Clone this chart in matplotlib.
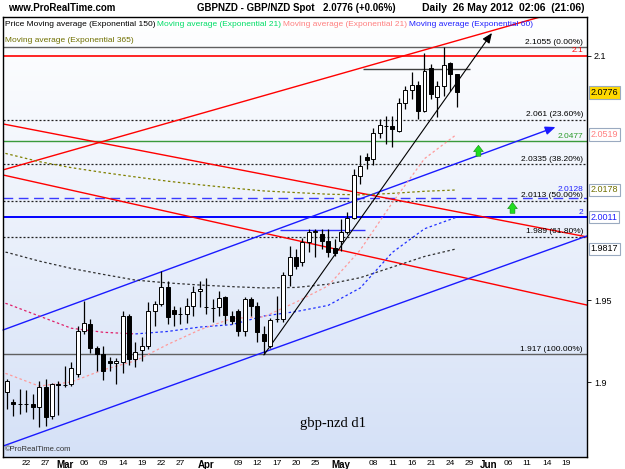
import numpy as np
import matplotlib.pyplot as plt
from matplotlib.transforms import blended_transform_factory

plt.rcParams['font.family'] = ['Liberation Sans', 'DejaVu Sans']

# GBPNZD daily candles, index 0 = 17 Feb 2012 ... index 70 = 25 May 2012
opens = [1.8939, 1.8878, 1.8866, 1.8864, 1.8865, 1.8847, 1.8969, 1.8792, 1.8985, 1.8980,
         1.8988, 1.9049, 1.9313, 1.9356, 1.9209, 1.9172, 1.9129, 1.9117, 1.9123, 1.9405,
         1.9141, 1.9197, 1.9221, 1.9436, 1.9479, 1.9583, 1.9442, 1.9420, 1.9418, 1.9467,
         1.9559, 1.9462, 1.9456, 1.9460, 1.9522, 1.9405, 1.9436, 1.9313, 1.9509, 1.9467,
         1.9295, 1.9221, 1.9385, 1.9387, 1.9657, 1.9767, 1.9737, 1.9859, 1.9920, 1.9908,
         1.9865, 1.9822, 1.9865, 1.9920, 2.0006, 2.0264, 2.0381, 2.0368, 2.0528, 2.0573,
         2.0571, 2.0540, 2.0712, 2.0792, 2.0822, 2.0663, 2.0927, 2.0749, 2.0816, 2.0957,
         2.0890]
highs = [1.9019, 1.8896, 1.8957, 1.8951, 1.8927, 1.9006, 1.9019, 1.8994, 1.9006, 1.9098,
         1.9123, 1.9344, 1.9497, 1.9387, 1.9221, 1.9221, 1.9154, 1.9148, 1.9436, 1.9418,
         1.9246, 1.9276, 1.9491, 1.9497, 1.9681, 1.9620, 1.9467, 1.9460, 1.9516, 1.9589,
         1.9620, 1.9638, 1.9509, 1.9559, 1.9528, 1.9436, 1.9448, 1.9522, 1.9522, 1.9491,
         1.9344, 1.9393, 1.9528, 1.9675, 1.9835, 1.9816, 1.9883, 1.9939, 1.9939, 1.9939,
         1.9939, 1.9878, 2.0000, 2.0043, 2.0307, 2.0393, 2.0405, 2.0559, 2.0614, 2.0632,
         2.0632, 2.0743, 2.0816, 2.0902, 2.0847, 2.1019, 2.0951, 2.0847, 2.1055, 2.0963,
         2.0890]
lows = [1.8835, 1.8792, 1.8804, 1.8816, 1.8773, 1.8724, 1.8730, 1.8773, 1.8798, 1.8969,
        1.8976, 1.9031, 1.9295, 1.9178, 1.9068, 1.9013, 1.9068, 1.8988, 1.9055, 1.9105,
        1.9092, 1.9129, 1.9203, 1.9344, 1.9467, 1.9356, 1.9344, 1.9356, 1.9362, 1.9405,
        1.9460, 1.9418, 1.9368, 1.9405, 1.9356, 1.9356, 1.9283, 1.9283, 1.9405, 1.9246,
        1.9170, 1.9209, 1.9368, 1.9368, 1.9589, 1.9694, 1.9712, 1.9798, 1.9767, 1.9816,
        1.9767, 1.9773, 1.9804, 1.9908, 2.0000, 2.0215, 2.0307, 2.0332, 2.0497, 2.0460,
        2.0442, 2.0534, 2.0675, 2.0737, 2.0614, 2.0657, 2.0737, 2.0626, 2.0755, 2.0786,
        2.0687]
closes = [1.9006, 1.8865, 1.8863, 1.8867, 1.8847, 1.8969, 1.8786, 1.8988, 1.8982, 1.8984,
          1.9086, 1.9313, 1.9362, 1.9209, 1.9172, 1.9068, 1.9117, 1.9129, 1.9405, 1.9141,
          1.9184, 1.9221, 1.9436, 1.9479, 1.9583, 1.9399, 1.9418, 1.9416, 1.9467, 1.9552,
          1.9571, 1.9458, 1.9452, 1.9516, 1.9411, 1.9375, 1.9313, 1.9509, 1.9467, 1.9307,
          1.9252, 1.9381, 1.9389, 1.9657, 1.9767, 1.9712, 1.9859, 1.9920, 1.9927, 1.9865,
          1.9798, 1.9792, 1.9920, 2.0006, 2.0270, 2.0325, 2.0362, 2.0528, 2.0577, 2.0569,
          2.0553, 2.0712, 2.0792, 2.0822, 2.0663, 2.0908, 2.0767, 2.0816, 2.0945, 2.0890,
          2.0776]

# moving averages sampled every 5 bars
ma_idx = [-1, 0, 5, 10, 15, 20, 25, 30, 35, 40, 45, 50, 55, 60, 65, 70]
ema150 = [1.9800, 1.9795, 1.9742, 1.9697, 1.9660, 1.9625, 1.9608, 1.9595, 1.9585, 1.9577,
          1.9580, 1.9600, 1.9640, 1.9705, 1.9770, 1.9817]
ema365 = [2.0410, 2.0400, 2.0352, 2.0315, 2.0285, 2.0258, 2.0232, 2.0210, 2.0190, 2.0172,
          2.0162, 2.0152, 2.0148, 2.0157, 2.0170, 2.0178]
ema60 = [1.9490, 1.9480, 1.9405, 1.9330, 1.9305, 1.9295, 1.9310, 1.9337, 1.9352, 1.9405,
         1.9432, 1.9470, 1.9577, 1.9795, 1.9940, 2.0011]
ema21 = [1.9060, 1.9050, 1.8975, 1.9000, 1.9075, 1.9130, 1.9230, 1.9320, 1.9390, 1.9400,
         1.9490, 1.9590, 1.9810, 2.0100, 2.0370, 2.0519]

# fibonacci retracement 1.917 -> 2.1055
fib_levels = [2.1055, 2.061, 2.0335, 2.0113, 1.989, 1.917]
fib_labels = ['2.1055 (0.00%)', '2.061 (23.60%)', '2.0335 (38.20%)',
              '2.0113 (50.00%)', '1.989 (61.80%)', '1.917 (100.00%)']

# tick labels (bar index, text)
tick_pos = [3, 6, 9, 12, 15, 18, 21, 24, 27, 31, 36, 39, 42, 45, 48, 52, 57, 60, 63, 66,
            69, 72, 75, 78, 81, 84, 87]
tick_txt = ['22', '27', 'Mar', '06', '09', '14', '19', '22', '27', 'Apr', '09', '12', '17',
            '20', '25', 'May', '08', '11', '16', '21', '24', '29', 'Jun', '06', '11', '14', '19']

xmin, xmax = -0.62, 90.3
ymin, ymax = 1.8540, 2.1239

fig = plt.figure(figsize=(6.25, 4.69), dpi=100)
ax = fig.add_axes([3 / 625, 12 / 469, 584 / 625, 440 / 469])
ax.set_xlim(xmin, xmax)
ax.set_ylim(ymin, ymax)

# background gradient
top = np.array([1.0, 1.0, 1.0])
bot = np.array([213, 225, 247]) / 255
t = np.linspace(0, 1, 256)[:, None]
grad = (top * (1 - t) + bot * t)[:, None, :]
ax.imshow(grad, extent=[xmin, xmax, ymin, ymax], aspect='auto', zorder=0, origin='upper')

# horizontal levels
ax.axhline(2.1, color='#ff0000', lw=1.2, zorder=2)
ax.axhline(2.0477, color='#3a9a3a', lw=1.0, zorder=2)
ax.axhline(2.0128, color='#3a3aff', lw=1.0, dashes=(7, 4), zorder=2)
ax.axhline(2.0011, color='#0000ff', lw=1.4, zorder=2)
ax.hlines(2.092, 55.5, 72.1, color='#404040', lw=1.0, zorder=2)
ax.hlines(1.9933, 42.5, 55.8, color='#3030ff', lw=1.0, zorder=2)
for lev in fib_levels:
    if lev in (2.1055, 1.917):
        ax.axhline(lev, color='#606060', lw=1.0, zorder=2)
    else:
        ax.axhline(lev, color='#202020', lw=0.9, dashes=(1.6, 1.6), zorder=2)

# trend lines
ax.plot([xmin, 83.0], [2.0301, 2.1239], color='#ff0000', lw=1.0, zorder=2)
ax.plot([xmin, xmax], [2.0583, 1.9890], color='#ff0000', lw=1.0, zorder=2)
ax.plot([xmin, xmax], [2.0270, 1.9472], color='#ff0000', lw=1.0, zorder=2)
ax.plot([xmin, xmax], [1.8607, 1.9896], color='#1a1aff', lw=1.0, zorder=2)
ax.annotate('', xy=(85.4, 2.0564), xytext=(xmin, 1.9319),
            arrowprops=dict(arrowstyle='-|>,head_length=0.6,head_width=0.25', color='#1a1aff',
                            lw=1.0, shrinkA=0, shrinkB=0), zorder=2)
ax.annotate('', xy=(75.5, 2.1141), xytext=(40, 1.9166),
            arrowprops=dict(arrowstyle='-|>,head_length=0.6,head_width=0.25', color='black',
                            lw=0.8, shrinkA=0, shrinkB=0), zorder=4)

# green arrows
for xa, y0, y1 in [(73.4, 2.0385, 2.0452), (78.7, 2.0035, 2.0102)]:
    ax.annotate('', xy=(xa, y1), xytext=(xa, y0),
                arrowprops=dict(arrowstyle='simple,head_width=0.7,head_length=0.45,tail_width=0.35',
                                fc='#22dd22', ec='#118811', lw=0.4, shrinkA=0, shrinkB=0), zorder=4)

# moving averages
ax.plot(ma_idx, ema150, color='#303030', lw=0.9, dashes=(2, 2), zorder=3)
ax.plot(ma_idx, ema365, color='#808000', lw=0.9, dashes=(2, 2), zorder=3)
ax.plot(ma_idx[:6], ema60[:6], color='#e0206a', lw=0.9, dashes=(2, 2), zorder=3)
ax.plot(ma_idx[5:], ema60[5:], color='#2030ff', lw=0.9, dashes=(2, 2), zorder=3)
ax.plot(ma_idx, ema21, color='#ff9a9a', lw=0.9, dashes=(2, 2), zorder=3)

# candles
idx = np.arange(len(opens))
o = np.array(opens)
c = np.array(closes)
ax.vlines(idx, lows, highs, color='black', lw=0.9, zorder=5)
body_lo = np.minimum(o, c)
body_h = np.maximum(np.abs(c - o), 0.0003)
face = ['white' if cc >= oo else 'black' for oo, cc in zip(o, c)]
ax.bar(idx, body_h, bottom=body_lo, width=0.62, color=face, edgecolor='black',
       linewidth=0.7, zorder=6)

# fib labels
tr = blended_transform_factory(ax.transAxes, ax.transData)
for lev, lab in zip(fib_levels, fib_labels):
    ax.text(0.993, lev + 0.0009, lab, transform=tr, ha='right', va='bottom',
            fontsize=6, color='black', zorder=7)
ax.text(0.993, 2.1009, '2.1', transform=tr, ha='right', va='bottom', fontsize=6,
        color='#ff0000', zorder=7)
ax.text(0.993, 2.0486, '2.0477', transform=tr, ha='right', va='bottom', fontsize=6,
        color='#2a9a2a', zorder=7)
ax.text(0.993, 2.0160, '2.0128', transform=tr, ha='right', va='bottom', fontsize=6,
        color='#2020ff', zorder=7)
ax.text(0.993, 2.0020, '2', transform=tr, ha='right', va='bottom', fontsize=6,
        color='#2020ff', zorder=7)

# right price axis
ax.yaxis.tick_right()
ax.set_yticks([1.9, 1.95, 2.1])
ax.set_yticklabels(['1.9', '1.95', '2.1'])
ax.tick_params(axis='y', length=3, width=0.6, labelsize=6.5, pad=2)
boxes = [(2.0776, 'black', '#ffd800'), (2.0519, '#ff8080', 'white'),
         (2.0178, '#707000', 'white'), (2.0011, '#2020ff', 'white'),
         (1.9817, 'black', 'white')]
for val, tc, fc in boxes:
    ax.text(1.006, val, f'{val:.4f}', transform=tr, ha='left', va='center', fontsize=6.5,
            color=tc, bbox=dict(boxstyle='square,pad=0.2', fc=fc, ec='#9aaac0', lw=0.8),
            clip_on=False)

# x axis
ax.set_xticks(tick_pos)
ax.set_xticklabels(tick_txt)
ax.tick_params(axis='x', length=0, labelsize=6, pad=2)
for lab in ax.get_xticklabels():
    if lab.get_text() in ('Mar', 'Apr', 'May', 'Jun'):
        lab.set_fontweight('bold')
        lab.set_fontsize(7)

for s in ax.spines.values():
    s.set_color('black')
    s.set_linewidth(1.0)

# header / legend
fig.text(8 / 625, 1 - 8 / 469, 'www.ProRealTime.com', fontsize=7, fontweight='bold', va='center')
fig.text(197 / 625, 1 - 8 / 469, 'GBPNZD - GBP/NZD Spot', fontsize=7, fontweight='bold', va='center')
fig.text(323 / 625, 1 - 8 / 469, '2.0776 (+0.06%)', fontsize=7, fontweight='bold', va='center')
fig.text(585 / 625, 1 - 8 / 469, 'Daily  26 May 2012  02:06  (21:06)', fontsize=7.5,
         fontweight='bold', va='center', ha='right')
leg = [(5, 'Price Moving average (Exponential 150)', 'black'),
       (157, 'Moving average (Exponential 21)', '#00dd66'),
       (283, 'Moving average (Exponential 21)', '#ff8080'),
       (409, 'Moving average (Exponential 60)', '#2020ff')]
for xp, txt, col in leg:
    fig.text(xp / 625, 1 - 24 / 469, txt, fontsize=6, color=col, va='center')
fig.text(5 / 625, 1 - 41 / 469, 'Moving average (Exponential 365)', fontsize=6,
         color='#707000', va='center')

fig.text(333 / 625, 1 - 423 / 469, 'gbp-nzd d1', fontsize=10.5, family='Liberation Serif',
         ha='center', va='center')
fig.text(5 / 625, 1 - 449 / 469, '\u00a9ProRealTime.com', fontsize=5.5, color='#333333',
         va='center')

fig.savefig('out.png', dpi=100)
